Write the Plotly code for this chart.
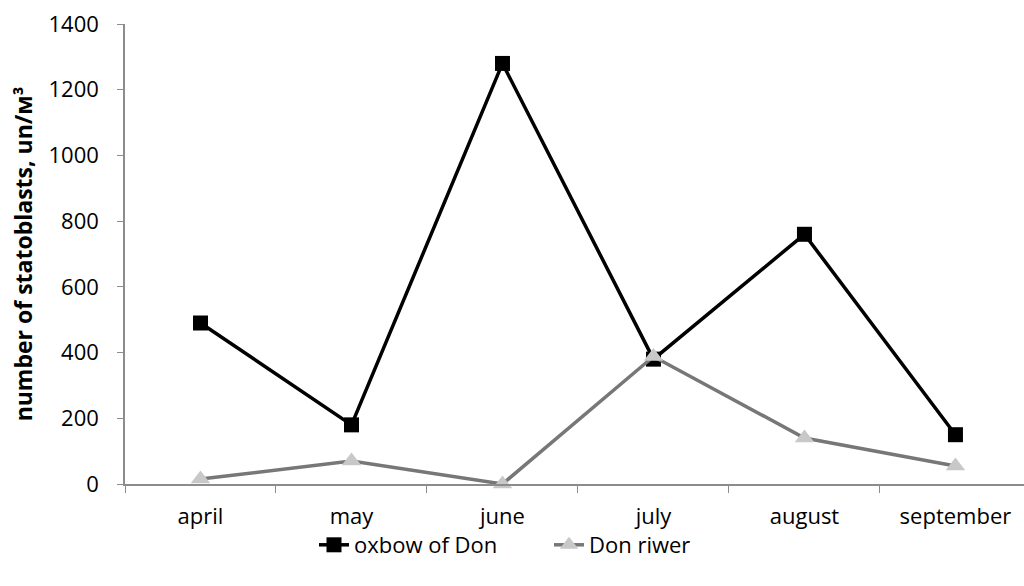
import plotly.graph_objects as go

months = ["april", "may", "june", "july", "august", "september"]
oxbow_of_don = [490, 180, 1280, 380, 760, 150]
don_riwer = [15, 70, 0, 388, 140, 55]
y_ticks = [0, 200, 400, 600, 800, 1000, 1200, 1400]

font_family = "Open Sans, Noto Sans, sans-serif"
W, H = 1024, 586
plot_top, plot_bottom = 24, 484  # pixel rows of the plotting area

fig = go.Figure()
fig.add_trace(go.Scatter(
    x=months, y=oxbow_of_don, name="oxbow of Don", mode="lines+markers",
    line=dict(color="#000000", width=3.5),
    marker=dict(symbol="square", size=15, color="#000000"),
    cliponaxis=False,
))
fig.add_trace(go.Scatter(
    x=months, y=don_riwer, name="Don riwer", mode="lines+markers",
    line=dict(color="#777777", width=3.5),
    marker=dict(symbol="triangle-up", size=17, color="#c8c8c8"),
    cliponaxis=False,
))

fig.update_layout(
    width=W, height=H,
    margin=dict(l=125, r=0, t=0, b=0, autoexpand=False),
    paper_bgcolor="white", plot_bgcolor="white",
    font=dict(family=font_family, size=22, color="#000000"),
    showlegend=True,
    legend=dict(orientation="h", x=(549 - 125) / (W - 125), xanchor="center",
                y=(H - 545) / H, yanchor="middle", bgcolor="rgba(0,0,0,0)",
                font=dict(size=22), traceorder="normal",
                entrywidth=190, entrywidthmode="pixels"),
)
fig.update_xaxes(
    type="category", categoryorder="array", categoryarray=months,
    range=[-0.5, 5.454], automargin=False,
    showline=True, linecolor="#8c8c8c", linewidth=1.5,
    ticks="outside", tickson="boundaries", ticklen=7, tickcolor="#8c8c8c",
    showgrid=False, zeroline=False,
    tickfont=dict(size=22), ticklabelstandoff=12,
)
fig.update_yaxes(
    range=[0, 1400], tickvals=y_ticks, automargin=False,
    domain=[(H - plot_bottom) / H, (H - plot_top) / H],
    showline=True, linecolor="#8c8c8c", linewidth=1.5,
    ticks="outside", ticklen=6, tickcolor="#8c8c8c",
    showgrid=False, zeroline=False,
    tickfont=dict(size=22), ticklabelstandoff=14,
    title=dict(text="<b>number of statoblasts, un/м³</b>", font=dict(size=23), standoff=9),
)

fig.write_html("out.html")
